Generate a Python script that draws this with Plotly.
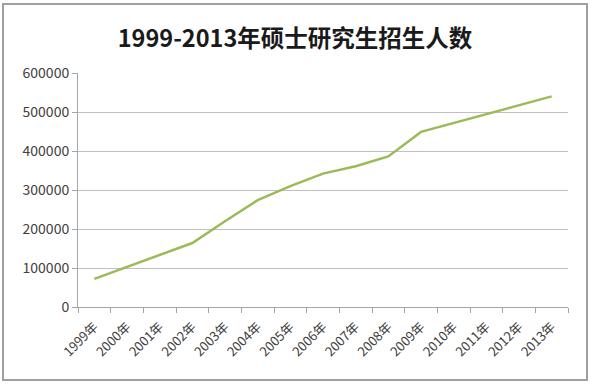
import plotly.graph_objects as go

years = ["1999年", "2000年", "2001年", "2002年", "2003年", "2004年", "2005年", "2006年",
         "2007年", "2008年", "2009年", "2010年", "2011年", "2012年", "2013年"]
enrollment = [72300, 103000, 133000, 164000, 220000, 274000, 310000, 342000,
              361000, 386000, 449000, 472000, 495000, 517000, 540000]
y_ticks = [0, 100000, 200000, 300000, 400000, 500000, 600000]
title_text = "1999-2013年硕士研究生招生人数"

fig = go.Figure()
fig.add_trace(go.Scatter(x=years, y=enrollment, mode="lines",
                         line=dict(color="#9BBB59", width=2.5), showlegend=False))

fig.update_layout(
    width=590, height=384,
    margin=dict(l=78, r=22, t=73, b=77),
    paper_bgcolor="white", plot_bgcolor="white",
    font=dict(family="Noto Sans CJK SC, Liberation Sans, sans-serif", color="#404040", size=12),
    title=dict(text=title_text, x=0.5, xanchor="center", y=0.9, yanchor="middle",
               font=dict(size=23.5, color="#1a1a1a", family="Noto Sans CJK SC, sans-serif", weight="bold")),
    xaxis=dict(type="category", tickangle=-45, showgrid=False, showline=True,
               linecolor="#a6a6a6", linewidth=1, ticks="outside", tickson="boundaries",
               ticklen=5, tickcolor="#a6a6a6", tickfont=dict(size=13, color="#404040"),
               ticklabelstandoff=6, range=[-0.5, 14.5], automargin=False),
    yaxis=dict(range=[0, 600000], tickvals=y_ticks, ticktext=[str(v) for v in y_ticks],
               showgrid=True, gridcolor="#bfbfbf", gridwidth=1, showline=True,
               linecolor="#a6a6a6", ticks="outside", ticklen=5, tickcolor="#a6a6a6",
               tickfont=dict(size=14, color="#404040"), zeroline=False, automargin=False),
    shapes=[dict(type="rect", xref="paper", yref="paper",
                 x0=-75/490, x1=1 + 19/490, y0=-73/234, y1=1 + 69/234,
                 line=dict(color="#a0a0a0", width=2), fillcolor="rgba(0,0,0,0)")],
)

fig.write_html("out.html", config={"displayModeBar": False},
               post_script="document.body.style.margin='0';document.body.style.overflow='hidden';")
